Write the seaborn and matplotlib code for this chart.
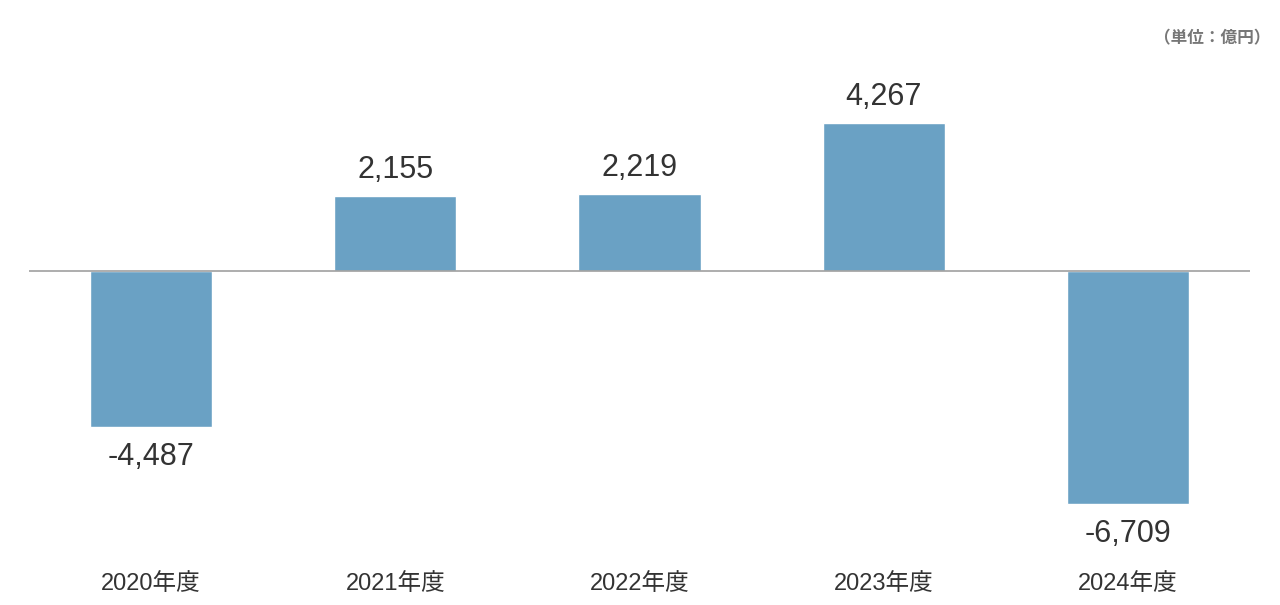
import matplotlib
matplotlib.use("Agg")
import matplotlib.pyplot as plt
import seaborn as sns
import pandas as pd

# データ（単位：億円）
years = ['2020年度', '2021年度', '2022年度', '2023年度', '2024年度']
values = [-4487, 2155, 2219, 4267, -6709]

sns.set_theme(style="white")
plt.rcParams['font.family'] = ['Liberation Sans', 'Noto Sans CJK JP', 'DejaVu Sans']

bar_color = '#6aa1c4'
text_color = '#333333'

df = pd.DataFrame({'year': years, 'value': values})

fig = plt.figure(figsize=(12.8, 6.05), dpi=100)
ax = fig.add_axes([29 / 1280, 50 / 605, 1221 / 1280, 495 / 605])

sns.barplot(data=df, x='year', y='value', color=bar_color, width=0.5,
            saturation=1, ax=ax)

ax.set_xlim(-0.5, 4.5)
ax.set_ylim(-8187, 6083)
ax.axhline(0, color='#a0a0a0', linewidth=1.2, zorder=3)

# 値ラベル
for p, v in zip(ax.patches, values):
    x = p.get_x() + p.get_width() / 2
    if v >= 0:
        ax.annotate(f'{v:,}', (x, v), xytext=(0, 8), textcoords='offset points',
                    ha='center', va='bottom', fontsize=22, color=text_color)
    else:
        ax.annotate(f'{v:,}', (x, v), xytext=(0, -11), textcoords='offset points',
                    ha='center', va='top', fontsize=22, color=text_color)

ax.set_xlabel('')
ax.set_ylabel('')
ax.set_yticks([])
ax.tick_params(axis='x', length=0, pad=13, labelsize=17, labelcolor=text_color)
for s in ax.spines.values():
    s.set_visible(False)

fig.text(1270 / 1280, 1 - 38 / 605, '（単位：億円）', ha='right', va='center',
         fontsize=12, fontweight='bold', color='#777777',
         family=['Noto Sans CJK JP', 'DejaVu Sans'])

fig.savefig('out.png', dpi=100, facecolor='white')
